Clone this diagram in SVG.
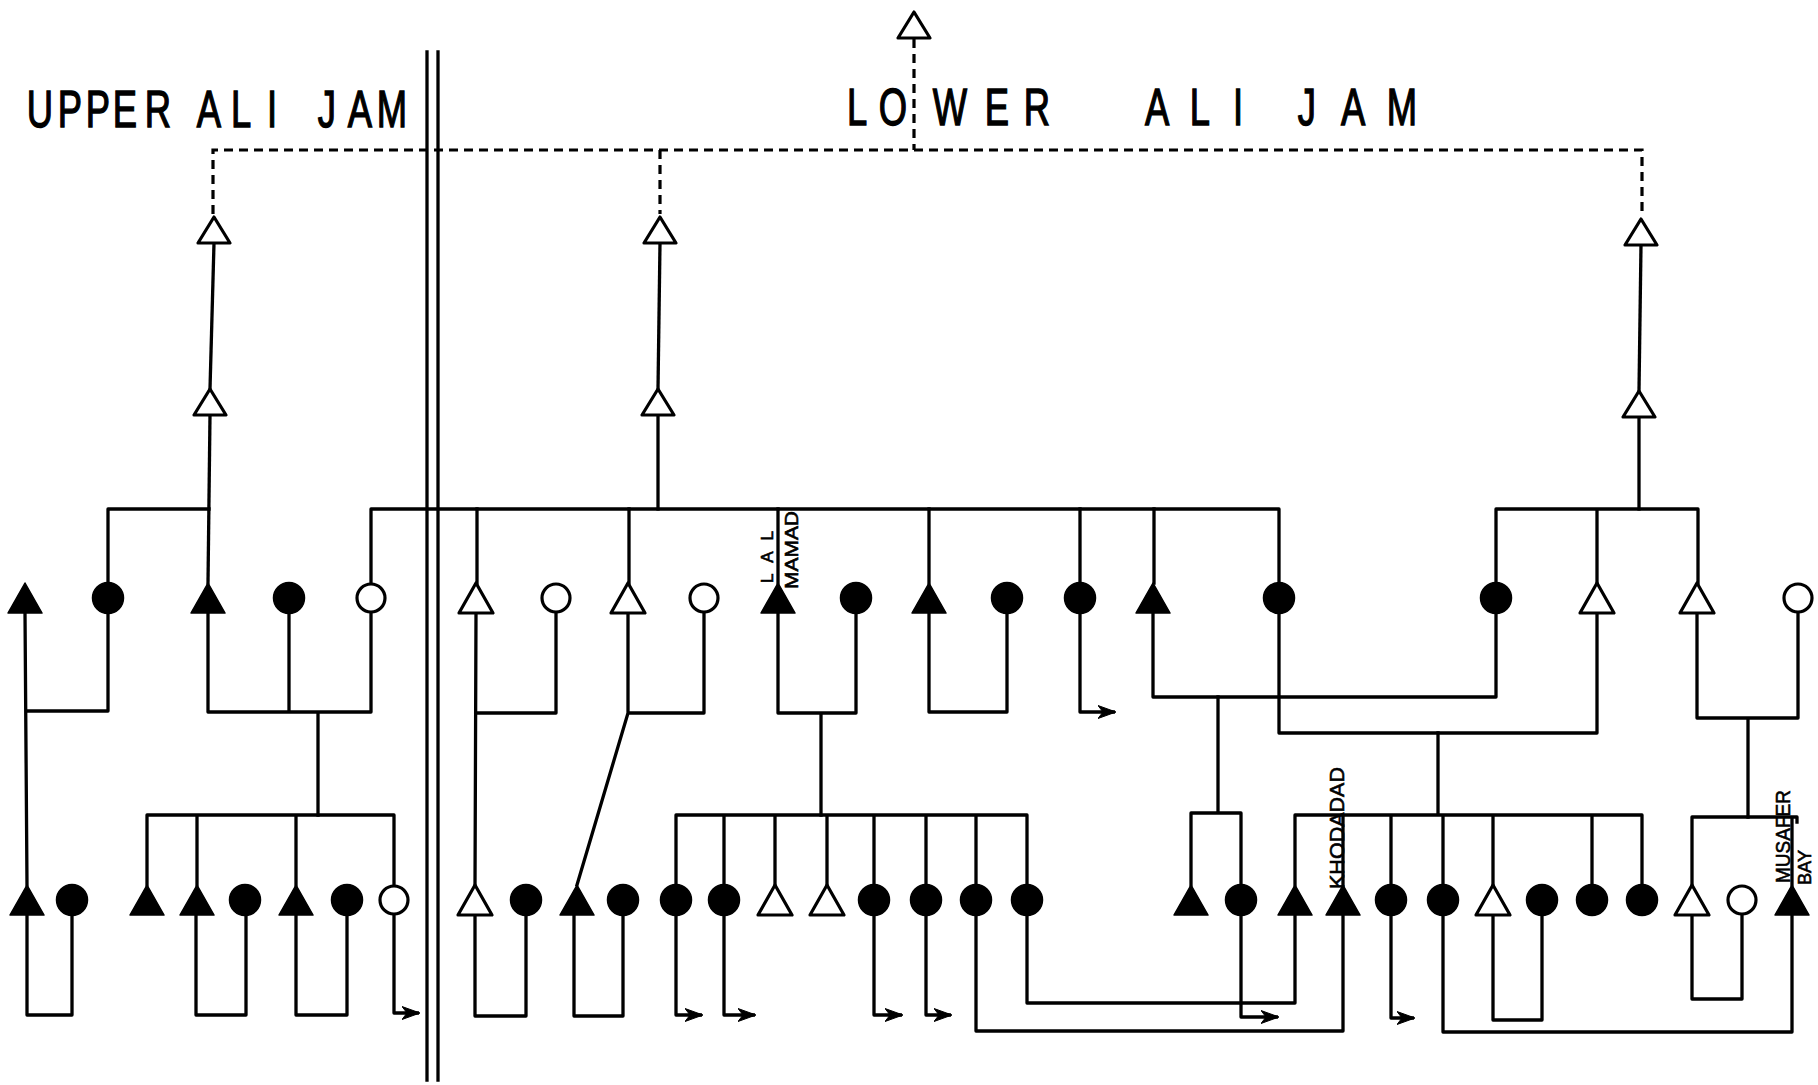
<svg xmlns="http://www.w3.org/2000/svg" xmlns:xlink="http://www.w3.org/1999/xlink" width="1818" height="1085" viewBox="0 0 1818 1085">
<style>
.ln{fill:none;stroke:#000;stroke-width:3.3;stroke-linejoin:round;stroke-linecap:square}
.ar{fill:none;stroke:#000;stroke-width:3.3;stroke-linejoin:round;stroke-linecap:butt}
.ds{fill:none;stroke:#000;stroke-width:3.2;stroke-dasharray:9 6}
.f{fill:#000;stroke:#000;stroke-width:1.5;stroke-linejoin:round}
.o{fill:#fff;stroke:#000;stroke-width:3.2;stroke-linejoin:round}
.big{font-family:"Liberation Sans",Arial,sans-serif;font-size:52px;fill:#000;stroke:#000;stroke-width:1.4;text-anchor:middle}
.lab{font-family:"Liberation Sans",Arial,sans-serif;fill:#000;stroke:#000;stroke-width:0.6}
</style>
<defs>
<path id="tL" d="M0,-15 L17,15 L-17,15 Z"/>
<path id="tS" d="M0,-13 L16,13 L-16,13 Z"/>
<marker id="arr" markerWidth="19" markerHeight="16" refX="17" refY="8" orient="auto" markerUnits="userSpaceOnUse">
<path d="M0,1.5 L18,8 L0,14.5 L5,8 Z" fill="#000" stroke="#000" stroke-width="1" stroke-linejoin="round"/>
</marker>
</defs>
<rect width="1818" height="1085" fill="#fff"/>

<g id="titles">
<g transform="scale(0.7,1)">
<text class="big" x="57.1 100 140 178.6 225.7" y="127">UPPER</text>
<text class="big" x="298.6 344.3 388.6" y="127">ALI</text>
<text class="big" x="467.1 514.3 560" y="127">JAM</text>
<text class="big" x="1224.3 1275.7 1357.1 1424.3 1481.4" y="125">LOWER</text>
<text class="big" x="1652.9 1714.3 1768.6" y="125">ALI</text>
<text class="big" x="1867.1 1932.9 2002.9" y="125">JAM</text>
</g>
</g>

<g id="divider">
<line class="ln" x1="427" y1="52" x2="427" y2="1080"/>
<line class="ln" x1="438" y1="52" x2="438" y2="1080"/>
</g>

<g id="connectors">
<path class="ds" d="M213,214 V150 H1642 V214"/>
<path class="ds" d="M660,150 V214"/>
<path class="ds" d="M914,39 V150"/>

<path class="ln" d="M214,243 L210,389"/>
<path class="ln" d="M660,243 L658,389"/>
<path class="ln" d="M1641,245 L1639,391"/>

<path class="ln" d="M210,415 L208,583"/>
<path class="ln" d="M108,583 V509 H209"/>
<path class="ln" d="M658,415 V509"/>
<path class="ln" d="M371,583 V509 H1279 V583"/>
<path class="ln" d="M477,509 V583 M629,509 V583 M778,509 V583 M929,509 V583 M1080,509 V583 M1154,509 V583"/>
<path class="ln" d="M1639,417 V509"/>
<path class="ln" d="M1496,583 V509 H1698 V583 M1597,509 V583"/>

<path class="ln" d="M25,613 L27,885 M27,711 H108 V613"/>
<path class="ln" d="M208,613 V712 H371 V613 M289,613 V712 M318,712 V815"/>
<path class="ln" d="M147,885 V815 H394 V885 M197,815 V885 M296,815 V885"/>
<path class="ln" d="M476,613 L475,885 M476,713 H556 V613"/>
<path class="ln" d="M628,613 V713 H704 V613 M628,713 L577,885"/>
<path class="ln" d="M778,613 V713 H856 V613 M821,713 V815"/>
<path class="ln" d="M676,885 V815 H1027 V885 M724,815 V885 M775,815 V885 M827,815 V885 M874,815 V885 M926,815 V885 M976,815 V885"/>
<path class="ln" d="M929,613 V712 H1007 V613"/>
<path class="ar" d="M1080,613 V712 H1115" marker-end="url(#arr)"/>
<path class="ln" d="M1153,613 V697 H1496 V613"/>
<path class="ln" d="M1279,613 V733 H1597 V613"/>
<path class="ln" d="M1218,697 V813 M1191,885 V813 H1241 V885"/>
<path class="ln" d="M1438,733 V815 M1295,885 V815 H1642 V885 M1343,815 V885 M1391,815 V885 M1443,815 V885 M1493,815 V885 M1592,815 V885"/>
<path class="ln" d="M1697,613 V718 H1798 V613 M1748,718 V817"/>
<path class="ln" d="M1692,885 V817 H1797 V822 M1792,817 V885"/>

<path class="ln" d="M27,915 V1015 H72 V915"/>
<path class="ln" d="M196,915 V1015 H246 V915"/>
<path class="ln" d="M296,915 V1015 H347 V915"/>
<path class="ar" d="M394,915 V1013 H419" marker-end="url(#arr)"/>
<path class="ln" d="M475,915 V1016 H526 V915"/>
<path class="ln" d="M574,915 V1016 H623 V915"/>
<path class="ar" d="M676,915 V1015 H702" marker-end="url(#arr)"/>
<path class="ar" d="M724,915 V1015 H755" marker-end="url(#arr)"/>
<path class="ar" d="M874,915 V1015 H902" marker-end="url(#arr)"/>
<path class="ar" d="M926,915 V1015 H951" marker-end="url(#arr)"/>
<path class="ln" d="M976,915 V1031 H1343 V915"/>
<path class="ln" d="M1027,915 V1003 H1295 V915"/>
<path class="ar" d="M1241,915 V1017 H1278" marker-end="url(#arr)"/>
<path class="ar" d="M1391,915 V1018 H1414" marker-end="url(#arr)"/>
<path class="ln" d="M1443,915 V1032 H1792 V915"/>
<path class="ln" d="M1493,915 V1020 H1542 V915"/>
<path class="ln" d="M1692,915 V999 H1742 V915"/>
</g>

<g id="n-top"><use href="#tS" class="o" x="914" y="25"/></g>
<g id="a1"><use href="#tS" class="o" x="214" y="230"/></g>
<g id="a2"><use href="#tS" class="o" x="660" y="230"/></g>
<g id="a3"><use href="#tS" class="o" x="1641" y="232"/></g>
<g id="b1"><use href="#tS" class="o" x="210" y="402"/></g>
<g id="b2"><use href="#tS" class="o" x="658" y="402"/></g>
<g id="b3"><use href="#tS" class="o" x="1639" y="404"/></g>

<g id="c1"><use href="#tL" class="f" x="25" y="598"/></g>
<g id="c2"><circle class="f" cx="108" cy="598" r="15.5"/></g>
<g id="c3"><use href="#tL" class="f" x="208" y="598"/></g>
<g id="c4"><circle class="f" cx="289" cy="598" r="15.5"/></g>
<g id="c5"><circle class="o" cx="371" cy="598" r="14"/></g>
<g id="c6"><use href="#tL" class="o" x="476" y="598"/></g>
<g id="c7"><circle class="o" cx="556" cy="598" r="14"/></g>
<g id="c8"><use href="#tL" class="o" x="628" y="598"/></g>
<g id="c9"><circle class="o" cx="704" cy="598" r="14"/></g>
<g id="c10-lal-mamad"><use href="#tL" class="f" x="778" y="598"/>
<text class="lab" font-size="17" transform="translate(773,583) rotate(-90)" textLength="52" lengthAdjust="spacing">LAL</text>
<text class="lab" font-size="18" transform="translate(798,589) rotate(-90)" textLength="78" lengthAdjust="spacingAndGlyphs">MAMAD</text></g>
<g id="c11"><circle class="f" cx="856" cy="598" r="15.5"/></g>
<g id="c12"><use href="#tL" class="f" x="929" y="598"/></g>
<g id="c13"><circle class="f" cx="1007" cy="598" r="15.5"/></g>
<g id="c14"><circle class="f" cx="1080" cy="598" r="15.5"/></g>
<g id="c15"><use href="#tL" class="f" x="1153" y="598"/></g>
<g id="c16"><circle class="f" cx="1279" cy="598" r="15.5"/></g>
<g id="c17"><circle class="f" cx="1496" cy="598" r="15.5"/></g>
<g id="c18"><use href="#tL" class="o" x="1597" y="598"/></g>
<g id="c19"><use href="#tL" class="o" x="1697" y="598"/></g>
<g id="c20"><circle class="o" cx="1798" cy="598" r="14"/></g>

<g id="d1"><use href="#tL" class="f" x="27" y="900"/></g>
<g id="d2"><circle class="f" cx="72" cy="900" r="15.5"/></g>
<g id="d3"><use href="#tL" class="f" x="147" y="900"/></g>
<g id="d4"><use href="#tL" class="f" x="197" y="900"/></g>
<g id="d5"><circle class="f" cx="245" cy="900" r="15.5"/></g>
<g id="d6"><use href="#tL" class="f" x="296" y="900"/></g>
<g id="d7"><circle class="f" cx="347" cy="900" r="15.5"/></g>
<g id="d8"><circle class="o" cx="394" cy="900" r="14"/></g>
<g id="d9"><use href="#tL" class="o" x="475" y="900"/></g>
<g id="d10"><circle class="f" cx="526" cy="900" r="15.5"/></g>
<g id="d11"><use href="#tL" class="f" x="577" y="900"/></g>
<g id="d12"><circle class="f" cx="623" cy="900" r="15.5"/></g>
<g id="d13"><circle class="f" cx="676" cy="900" r="15.5"/></g>
<g id="d14"><circle class="f" cx="724" cy="900" r="15.5"/></g>
<g id="d15"><use href="#tL" class="o" x="775" y="900"/></g>
<g id="d16"><use href="#tL" class="o" x="827" y="900"/></g>
<g id="d17"><circle class="f" cx="874" cy="900" r="15.5"/></g>
<g id="d18"><circle class="f" cx="926" cy="900" r="15.5"/></g>
<g id="d19"><circle class="f" cx="976" cy="900" r="15.5"/></g>
<g id="d20"><circle class="f" cx="1027" cy="900" r="15.5"/></g>
<g id="d21"><use href="#tL" class="f" x="1191" y="900"/></g>
<g id="d22"><circle class="f" cx="1241" cy="900" r="15.5"/></g>
<g id="d23"><use href="#tL" class="f" x="1295" y="900"/></g>
<g id="d24-khodadad"><use href="#tL" class="f" x="1343" y="900"/>
<text class="lab" font-size="21" transform="translate(1344,889) rotate(-90)" textLength="122" lengthAdjust="spacingAndGlyphs">KHODADAD</text></g>
<g id="d25"><circle class="f" cx="1391" cy="900" r="15.5"/></g>
<g id="d26"><circle class="f" cx="1443" cy="900" r="15.5"/></g>
<g id="d27"><use href="#tL" class="o" x="1493" y="900"/></g>
<g id="d28"><circle class="f" cx="1542" cy="900" r="15.5"/></g>
<g id="d29"><circle class="f" cx="1592" cy="900" r="15.5"/></g>
<g id="d30"><circle class="f" cx="1642" cy="900" r="15.5"/></g>
<g id="d31"><use href="#tL" class="o" x="1692" y="900"/></g>
<g id="d32"><circle class="o" cx="1742" cy="900" r="14"/></g>
<g id="d33-musafer-bay"><use href="#tL" class="f" x="1792" y="900"/>
<text class="lab" font-size="21" transform="translate(1790,883) rotate(-90)" textLength="93" lengthAdjust="spacingAndGlyphs">MUSAFER</text>
<text class="lab" font-size="19" transform="translate(1811,885) rotate(-90)" textLength="35" lengthAdjust="spacingAndGlyphs">BAY</text></g>
</svg>
